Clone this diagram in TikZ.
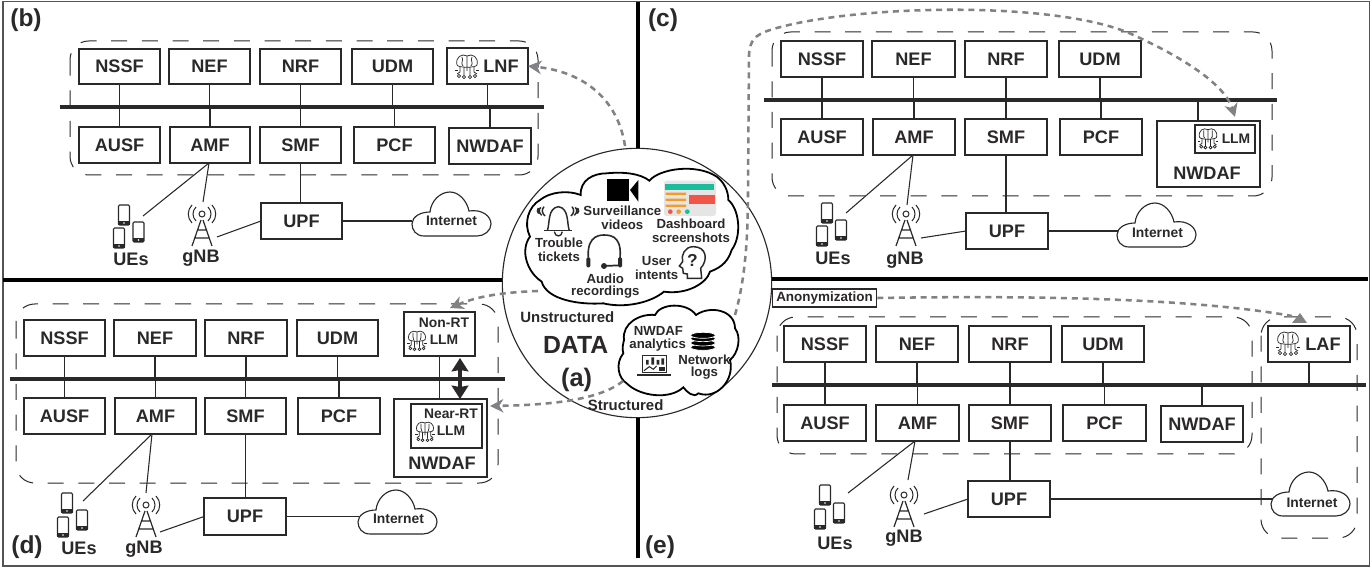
\documentclass[tikz,border=0pt]{standalone}
\usepackage{fontspec}
\setmainfont{Liberation Sans}
\usetikzlibrary{arrows.meta}
\definecolor{ink}{HTML}{2B2829}
\definecolor{flow}{HTML}{808285}
\definecolor{dteal}{HTML}{1ABC9C}
\definecolor{dorange}{HTML}{F39C2B}
\definecolor{dred}{HTML}{F05545}
\newcommand{\fpx}[1]{\fontsize{#1}{#1}\selectfont\bfseries}
\tikzset{
  nfbox/.style={draw=ink,line width=1.5pt,fill=white,inner sep=0pt,outer sep=0pt,text=ink,font=\fpx{13.6}},
  innerbox/.style={nfbox,line width=.8pt},
  busline/.style={fill=ink,inner sep=0pt,outer sep=0pt,minimum height=3pt},
  wire/.style={draw=ink,line width=.8pt},
  group/.style={draw=ink,line width=.75pt,dash pattern=on 12pt off 11pt,rounded corners=14pt},
  sep/.style={draw=black,line width=3pt},
  flowarrow/.style={draw=flow,line width=1.9pt,dash pattern=on 4.5pt off 3.6pt,-{Stealth[length=10pt,width=10pt,inset=3pt]}},
  lbl/.style={inner sep=0pt,text=ink,font=\fpx{13.6}},
  small/.style={inner sep=0pt,text=ink,font=\fpx{10.4}},
  cl/.style={inner sep=0pt,text=ink,font=\fpx{9.9}},
  towericon/.pic={
    \draw[ink,line width=.75pt] (0,8) circle (3);
    \draw[ink,line width=.75pt] (-6,1) .. controls (-10,5) and (-10,11) .. (-6,15);
    \draw[ink,line width=.75pt] (6,1) .. controls (10,5) and (10,11) .. (6,15);
    \draw[ink,line width=.75pt] (-10,-1) .. controls (-15,4) and (-15,12) .. (-10,17);
    \draw[ink,line width=.75pt] (10,-1) .. controls (15,4) and (15,12) .. (10,17);
    \draw[ink,line width=.9pt] (-1,14) -- (-10,40) (1,14) -- (10,40) (-5,24) -- (5,24) (-7,32) -- (7,32);
  },
  phoneicon/.pic={
    \draw[ink,line width=.8pt,fill=white,rounded corners=.8pt] (-5.5,0) rectangle (5.5,20);
    \fill[ink] (-5.8,16) rectangle (5.8,20.3);
    \fill[white] (0,18) circle (.9);
  },
  brainicon/.pic={
    \begin{scope}[ink,line width=.55pt]
    \draw[fill=white] (-10,-2) .. controls (-12,-10) and (-5,-14) .. (0,-11) .. controls (5,-14) and (12,-10) .. (10,-2) .. controls (9,1) and (-9,1) .. (-10,-2);
    \draw (0,-11) -- (0,0) (-5,-10) .. controls (-3,-6) and (-7,-4) .. (-4,-1) (5,-10) .. controls (3,-6) and (7,-4) .. (4,-1);
    \draw (-7,0) -- (-7,5) -- (-10,7) (-3,0) -- (-3,8) (3,0) -- (3,8) (7,0) -- (7,5) -- (10,7) (0,0) -- (0,4);
    \draw (-9,3) -- (-12,3) (9,3) -- (12,3);
    \draw[fill=white] (-8,9) circle (1.7) (-3,10) circle (1.7) (3,10) circle (1.7) (8,9) circle (1.7);
    \end{scope}
  },
  cloudicon/.pic={
    \draw[ink,line width=.85pt,fill=white] (12,44) .. controls (4,44) and (0,38) .. (0,32) .. controls (0,25) and (8,20) .. (18,20) .. controls (19,9) and (28,0) .. (38,0) .. controls (47,0) and (55,9) .. (57,19) .. controls (70,17) and (79,24) .. (79,32) .. controls (79,39) and (72,44) .. (65,44) -- cycle;
  },
}
% name, x1, y1, x2, y2, text
\newcommand{\nfbx}[7][]{\node[nfbox,minimum width={(#4-#2)*0.75pt},minimum height={(#5-#3)*0.75pt},#1] (#6) at ({(#2+#4)/2},{(#3+#5)/2}) {#7};}
\begin{document}
\begin{tikzpicture}[x=0.75pt,y=-0.75pt]
\useasboundingbox (0,0) rectangle (1372,570);
\fill[white] (0,0) rectangle (1372,570);
\draw[draw=ink!80,line width=1.3pt] (3,1.5) rectangle (1369.5,566);

% ---------- separators and data circle
\node[circle,draw=ink,line width=.85pt,minimum size=202pt,inner sep=0pt] (data) at (637,283) {};
\coordinate (topend) at (638,2);
\coordinate (botend) at (638,558);
\coordinate (leftend) at (3,280);
\coordinate (rightend) at (1368,279);
\draw[sep] (topend) -- (data.north -| topend);
\draw[sep] (botend) -- (data.south -| botend);
\draw[sep] (leftend) -- (data.west |- leftend);
\draw[sep] (rightend) -- (data.east |- rightend);

% ---------- panel b
\node[lbl,font=\fpx{18.4}] (tagb) at (26,20) {(b)};
\draw[group] (70,41) rectangle (538,175);
\node[busline,minimum width=363pt] (bbus) at (302,107) {};
\nfbx{79}{49}{160}{84}{bNSSF}{NSSF}
\nfbx{169}{49}{250}{84}{bNEF}{NEF}
\nfbx{260}{49}{341}{84}{bNRF}{NRF}
\nfbx{352}{49}{433}{84}{bUDM}{UDM}
\nfbx{447}{48}{528}{84}{bLNF}{}
\nfbx{79}{127}{160}{163}{bAUSF}{AUSF}
\nfbx{170}{127}{250}{163}{bAMF}{AMF}
\nfbx{260}{127}{341}{163}{bSMF}{SMF}
\nfbx{354}{127}{435}{163}{bPCF}{PCF}
\nfbx{449}{128}{531}{164}{bNWDAF}{NWDAF}
\nfbx{261}{203}{342}{239}{bUPF}{UPF}
\pic at (467,67) {brainicon};
\node[lbl] (bLNFt) at (501,66) {LNF};
\foreach \n in {bNSSF,bNEF,bNRF,bUDM,bLNF} \draw[wire] (\n.south) -- (\n.south |- bbus.center);
\foreach \n in {bAUSF,bAMF,bSMF,bPCF,bNWDAF} \draw[wire] (\n.north) -- (\n.north |- bbus.center);
\pic at (412,192) {cloudicon};
\node[small,minimum width=59pt] (bnet) at (451.5,221) {Internet};
\pic at (124,205) {phoneicon};
\pic at (138.5,222) {phoneicon};
\pic at (119,228) {phoneicon};
\node[lbl] (bUE) at (131,259) {UEs};
\pic at (202,206) {towericon};
\node[lbl] (bgNB) at (201,258) {gNB};
\coordinate (bUEend) at (143,216);
\coordinate (bgNBtop) at (203,202);
\coordinate (bgNBside) at (217,237);
\coordinate (bAMFb) at (209,163);
\draw[wire] (bAMFb) -- (bUEend);
\draw[wire] (bAMFb) -- (bgNBtop);
\draw[wire] (bSMF.south) -- (bUPF.north -| bSMF.south);
\draw[wire] (bgNBside) -- (bUPF.west);
\draw[wire] (bUPF.east) -- (bnet.west |- bUPF.east);

% ---------- panel c
\node[lbl,font=\fpx{18.4}] (tagc) at (663,20) {(c)};
\draw[group] (772,32) rectangle (1272,196);
\node[busline,minimum width=385pt] (cbus) at (1020.5,100) {};
\nfbx{781}{41}{863}{77}{cNSSF}{NSSF}
\nfbx{872}{41}{955}{77}{cNEF}{NEF}
\nfbx{965}{41}{1047}{77}{cNRF}{NRF}
\nfbx{1059}{41}{1141}{77}{cUDM}{UDM}
\nfbx{781}{119}{863}{155}{cAUSF}{AUSF}
\nfbx{873}{119}{955}{155}{cAMF}{AMF}
\nfbx{965}{119}{1047}{155}{cSMF}{SMF}
\nfbx{1060}{119}{1142}{155}{cPCF}{PCF}
\nfbx{1157}{121}{1260}{187}{cNWDAF}{}
\nfbx[innerbox]{1195}{125}{1255}{153}{cLLMbox}{}
\nfbx{966}{213}{1048}{249}{cUPF}{UPF}
\pic[scale=.85] at (1208,139) {brainicon};
\node[lbl,font=\fpx{10.4}] (cLLM) at (1236,139) {LLM};
\node[lbl] (cNWt) at (1207,173) {NWDAF};
\foreach \n in {cNSSF,cNEF,cNRF,cUDM} \draw[wire] (\n.south) -- (\n.south |- cbus.center);
\foreach \n in {cAUSF,cAMF,cSMF,cPCF} \draw[wire] (\n.north) -- (\n.north |- cbus.center);
\coordinate (cNWup) at (1198,121);
\draw[wire] (cNWup) -- (cNWup |- cbus.center);
\pic at (1117,203) {cloudicon};
\node[small,minimum width=59pt] (cnet) at (1157.5,233) {Internet};
\pic at (827,203) {phoneicon};
\pic at (841,220) {phoneicon};
\pic at (822,226) {phoneicon};
\node[lbl] (cUE) at (833,258) {UEs};
\pic at (906,206) {towericon};
\node[lbl] (cgNB) at (905,260) {gNB};
\coordinate (cUEend) at (846,213);
\coordinate (cgNBtop) at (907,205);
\coordinate (cgNBside) at (921,238);
\coordinate (cAMFb) at (913,155);
\draw[wire] (cAMFb) -- (cUEend);
\draw[wire] (cAMFb) -- (cgNBtop);
\draw[wire] (cSMF.south) -- (cUPF.north -| cSMF.south);
\draw[wire] (cgNBside) -- (cUPF.west);
\draw[wire] (cUPF.east) -- (cnet.west |- cUPF.east);

% ---------- panel d
\node[lbl,font=\fpx{18.4}] (tagd) at (27,547) {(d)};
\draw[group] (16,304) rectangle (498,483);
\node[busline,minimum width=371pt] (dbus) at (257.5,379) {};
\nfbx{24}{320}{105}{356}{dNSSF}{NSSF}
\nfbx{114}{320}{196}{356}{dNEF}{NEF}
\nfbx{205}{320}{287}{356}{dNRF}{NRF}
\nfbx{297}{320}{378}{356}{dUDM}{UDM}
\nfbx{404}{312}{475}{356}{dNonRT}{}
\nfbx{24}{398}{105}{434}{dAUSF}{AUSF}
\nfbx{115}{398}{196}{434}{dAMF}{AMF}
\nfbx{205}{398}{286}{434}{dSMF}{SMF}
\nfbx{298}{398}{380}{434}{dPCF}{PCF}
\nfbx{394}{399}{487}{477}{dNWDAF}{}
\nfbx[innerbox]{411}{404}{482}{448}{dNearRT}{}
\nfbx{204}{498}{286}{535}{dUPF}{UPF}
\node[small] (dNont) at (444,323) {Non-RT};
\pic[scale=.82] at (417,341) {brainicon};
\node[small] (dLLMa) at (444,340) {LLM};
\node[small] (dNeart) at (451,414) {Near-RT};
\pic[scale=.82] at (425,432) {brainicon};
\node[small] (dLLMb) at (451,431) {LLM};
\node[lbl] (dNWt) at (442,463) {NWDAF};
\foreach \n in {dNSSF,dNEF,dNRF,dUDM,dNonRT} \draw[wire] (\n.south) -- (\n.south |- dbus.center);
\foreach \n in {dAUSF,dAMF,dSMF,dPCF} \draw[wire] (\n.north) -- (\n.north |- dbus.center);
\draw[wire] (dNonRT.south) -- (dNonRT.south |- dNWDAF.north);
\coordinate (dArrowTop) at (460,358);
\coordinate (dArrowBot) at (460,399);
\draw[ink,line width=3pt,{Stealth[length=10pt,width=12.5pt,inset=1pt]}-{Stealth[length=10pt,width=12.5pt,inset=1pt]}] (dArrowTop) -- (dArrowBot);
\pic at (358,490) {cloudicon};
\node[small,minimum width=59pt] (dnet) at (398.5,519) {Internet};
\pic at (67,493) {phoneicon};
\pic at (82,510) {phoneicon};
\pic at (63,517) {phoneicon};
\node[lbl] (dUE) at (79,548) {UEs};
\pic at (146,497) {towericon};
\node[lbl] (dgNB) at (144,549) {gNB};
\coordinate (dUEend) at (83,501);
\coordinate (dgNBtop) at (146,493);
\coordinate (dgNBside) at (160,532);
\coordinate (dAMFb) at (152,434);
\draw[wire] (dAMFb) -- (dUEend);
\draw[wire] (dAMFb) -- (dgNBtop);
\draw[wire] (dSMF.south) -- (dUPF.north -| dSMF.south);
\draw[wire] (dgNBside) -- (dUPF.west);
\draw[wire] (dUPF.east) -- (dnet.west |- dUPF.east);

% ---------- panel e
\node[lbl,font=\fpx{18.4}] (tage) at (660,547) {(e)};
\draw[group] (777,317) rectangle (1252,454);
\draw[group] (1261,317) rectangle (1357,538);
\node[busline,minimum width=446pt] (ebus) at (1069,385) {};
\nfbx{784}{326}{866}{362}{eNSSF}{NSSF}
\nfbx{876}{326}{958}{362}{eNEF}{NEF}
\nfbx{969}{326}{1051}{362}{eNRF}{NRF}
\nfbx{1062}{326}{1144}{362}{eUDM}{UDM}
\nfbx{1268}{326}{1350}{362}{eLAF}{}
\nfbx{784}{405}{866}{441}{eAUSF}{AUSF}
\nfbx{876}{405}{959}{441}{eAMF}{AMF}
\nfbx{969}{405}{1051}{441}{eSMF}{SMF}
\nfbx{1063}{405}{1146}{441}{ePCF}{PCF}
\nfbx{1161}{406}{1243}{442}{eNWDAF}{NWDAF}
\nfbx{968}{481}{1050}{517}{eUPF}{UPF}
\pic at (1288,344) {brainicon};
\node[lbl] (eLAFt) at (1323,344) {LAF};
\foreach \n in {eNSSF,eNEF,eNRF,eUDM,eLAF} \draw[wire] (\n.south) -- (\n.south |- ebus.center);
\foreach \n in {eAUSF,eAMF,eSMF,ePCF,eNWDAF} \draw[wire] (\n.north) -- (\n.north |- ebus.center);
\node[lbl,font=\fpx{10.1},draw=ink,line width=.8pt,fill=white,minimum width=78.5pt,minimum height=13.5pt] (eAnon) at (824.5,298) {Anonymization};
\coordinate (enetin) at (1285,499);
\draw[wire] (eUPF.east) -- (enetin);
\pic at (1271,472) {cloudicon};
\node[small,minimum width=59pt] (enet) at (1312,503) {Internet};
\pic at (825,485) {phoneicon};
\pic at (839,503) {phoneicon};
\pic at (820,509) {phoneicon};
\node[lbl] (eUE) at (835,543) {UEs};
\pic at (904,487) {towericon};
\node[lbl] (egNB) at (904,538) {gNB};
\coordinate (eUEend) at (848,493);
\coordinate (egNBtop) at (908,480);
\coordinate (egNBside) at (924,514);
\coordinate (eAMFb) at (915,441);
\draw[wire] (eAMFb) -- (eUEend);
\draw[wire] (eAMFb) -- (egNBtop);
\draw[wire] (eSMF.south) -- (eUPF.north -| eSMF.south);
\draw[wire] (egNBside) -- (eUPF.west);

% ---------- content of circle (zoom-crop coordinates)
\begin{scope}[shift={(490,140)},x=0.25pt,y=-0.25pt]
\draw[black,line width=1.35pt,fill=white] (272,165) .. controls (270,120) and (310,100) .. (350,100)
  .. controls (400,95) and (450,100) .. (478,122)
  .. controls (510,85) and (620,70) .. (680,110)
  .. controls (700,125) and (715,150) .. (715,180)
  .. controls (750,210) and (755,290) .. (725,330)
  .. controls (715,360) and (700,380) .. (660,395)
  .. controls (650,430) and (590,465) .. (522,455)
  .. controls (480,490) and (400,505) .. (340,490)
  .. controls (270,495) and (170,480) .. (155,425)
  .. controls (110,395) and (90,330) .. (120,290)
  .. controls (100,250) and (115,200) .. (150,180)
  .. controls (180,155) and (235,150) .. (272,165) -- cycle;
\draw[black,line width=1.35pt,fill=white] (402,600) .. controls (395,550) and (450,520) .. (495,525)
  .. controls (510,490) and (590,485) .. (618,525)
  .. controls (660,495) and (735,510) .. (735,565)
  .. controls (755,590) and (745,640) .. (720,660)
  .. controls (735,720) and (680,780) .. (625,760)
  .. controls (610,775) and (590,755) .. (580,742)
  .. controls (540,780) and (450,770) .. (410,730)
  .. controls (385,715) and (375,670) .. (400,640)
  .. controls (395,625) and (400,610) .. (402,600) -- cycle;
% camera
\fill[black] (352,118) rectangle (418,182);
\fill[black] (420,150) -- (445,120) -- (445,185) -- cycle;
% dashboard
\fill[ink!12,rounded corners=2pt] (522,122) rectangle (678,228);
\fill[dteal] (525,132) rectangle (672,150);
\fill[dorange] (527,158) rectangle (588,165) (527,176) rectangle (588,183) (527,194) rectangle (588,201);
\fill[dred] (597,165) rectangle (675,192);
\fill[dred] (541,215) circle (7);
\fill[dorange] (566,215) circle (7);
\fill[dteal] (592,215) circle (7);
% bell
\draw[ink,line width=1.1pt] (172,272) .. controls (180,250) and (172,205) .. (205,200) .. controls (238,205) and (230,250) .. (238,272);
\draw[ink,line width=1.1pt] (162,272) -- (246,272);
\draw[ink,line width=1pt] (193,275) .. controls (195,292) and (215,292) .. (217,275);
\draw[ink,line width=1.1pt] (162,200) .. controls (154,208) and (156,220) .. (165,228) (152,202) .. controls (145,210) and (147,218) .. (155,226) (145,204) .. controls (140,210) and (142,216) .. (146,221);
\draw[ink,line width=1.1pt] (246,200) .. controls (254,208) and (252,220) .. (243,228) (256,202) .. controls (263,210) and (261,218) .. (253,226) (263,204) .. controls (268,210) and (266,216) .. (262,221);
% headset
\draw[ink,line width=1.2pt] (297,370) .. controls (285,295) and (320,285) .. (342,285) .. controls (370,285) and (400,295) .. (388,370);
\fill[ink,rounded corners=1pt] (289,352) rectangle (301,382) (384,352) rectangle (396,382);
\draw[ink,line width=1.3pt] (342,378) -- (388,376);
\fill[ink] (342,378) circle (9);
% head
\draw[ink,line width=1.1pt] (635,415) -- (632,385) .. controls (655,360) and (650,320) .. (610,320) .. controls (585,320) and (572,345) .. (578,365) -- (568,378) -- (578,385) -- (580,400) -- (592,402) -- (592,415) -- cycle;
\node[cl,font=\fpx{13}] (headq) at (607,362) {?};
% database
\foreach \yy in {622,609,596,586} \filldraw[fill=black,draw=white,line width=.5pt] (639,\yy) ellipse (37 and 9);
% laptop
\draw[ink,line width=.7pt,fill=white] (456,646) rectangle (530,696);
\draw[ink,line width=1.3pt] (441,705) -- (544,705);
\fill[ink] (468,660) rectangle (476,674) (484,652) rectangle (492,674) (500,660) rectangle (508,674) (514,655) rectangle (522,674);
\draw[ink,line width=.8pt] (462,692) -- (478,680) -- (490,688) -- (500,678);
\fill[ink] (508,680) rectangle (526,692);
% cloud texts
\node[cl] (t1) at (397,213) {Surveillance};
\node[cl] (t2) at (397,255) {videos};
\node[cl] (t3) at (603,250) {Dashboard};
\node[cl] (t4) at (603,292) {screenshots};
\node[cl] (t5) at (207,309) {Trouble};
\node[cl] (t6) at (207,351) {tickets};
\node[cl] (t7) at (346,415) {Audio};
\node[cl] (t8) at (346,455) {recordings};
\node[cl] (t9) at (500,363) {User};
\node[cl] (t10) at (500,405) {intents};
\node[cl] (t11) at (505,573) {NWDAF};
\node[cl] (t12) at (503,615) {analytics};
\node[cl] (t13) at (643,660) {Network};
\node[cl] (t14) at (643,700) {logs};
\node[lbl,font=\fpx{11.2}] (t15) at (232,532) {Unstructured};
\node[lbl,font=\fpx{11.2}] (t16) at (407,795) {Structured};
\node[lbl,font=\fpx{18.6}] (t17) at (257,615) {DATA};
\node[lbl,font=\fpx{19}] (t18) at (260,720) {(a)};
\end{scope}

% ---------- flows
\coordinate (fa) at (625,146);
\coordinate (fb) at (735,315);
\coordinate (fb1) at (748,190);
\coordinate (fb2) at (749,55);
\coordinate (fb3) at (770,30);
\coordinate (fb4) at (1129,33);
\coordinate (fbe) at (1235,117);
\coordinate (fc) at (538,291);
\coordinate (fce) at (450,308);
\coordinate (fd) at (623,381);
\coordinate (fde) at (490,406);
\draw[flowarrow] (fa) .. controls (618,100) and (585,72) .. (bLNF.east);
\draw[flowarrow] (fb) .. controls (745,280) and (748,240) .. (fb1) -- (fb2) .. controls (750,40) and (755,35) .. (fb3) .. controls (850,5) and (1050,0) .. (fb4) .. controls (1185,58) and (1225,85) .. (fbe);
\draw[flowarrow] (fc) .. controls (510,292) and (480,295) .. (fce);
\draw[flowarrow] (fd) .. controls (600,400) and (550,405) .. (fde);
\coordinate (faf) at (1292,316);
\draw[flow,line width=1.9pt,dash pattern=on 4.5pt off 3.6pt] (eAnon.east) .. controls (1000,296) and (1180,296) .. (faf);
\fill[flow] (1300,313) -- (1307,323) -- (1292,323) -- cycle;
\end{tikzpicture}
\end{document}
